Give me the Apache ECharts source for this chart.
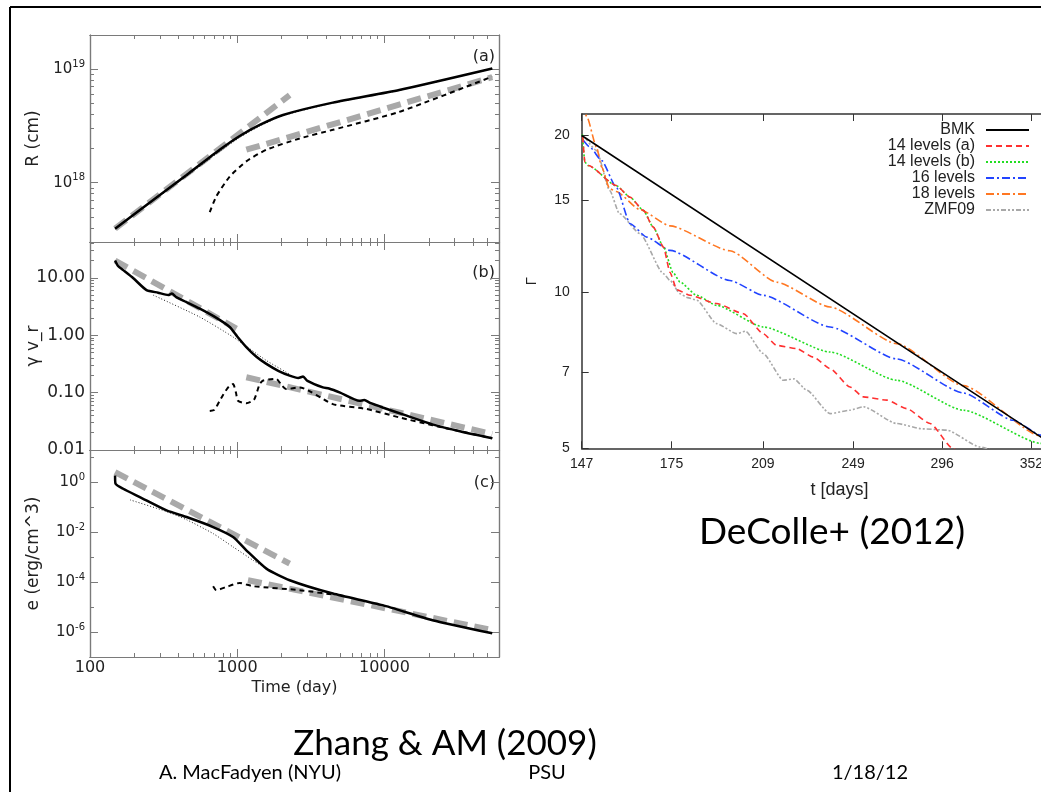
<!DOCTYPE html>
<html>
<head>
<meta charset="utf-8">
<script src="https://cdn.jsdelivr.net/npm/echarts@6/dist/echarts.min.js"></script>
<style>
  html, body { margin: 0; padding: 0; background: #fff; }
  #chart { width: 1041px; height: 792px; }
</style>
</head>
<body>
<div id="chart"></div>
<script>
// ---------- Zhang & MacFadyen (2009): time in days ----------
const timeMajorTicks = [100, 1000, 10000];
const timeMinorTicks = [200, 300, 400, 500, 600, 700, 800, 900,
  2000, 3000, 4000, 5000, 6000, 7000, 8000, 9000, 20000, 30000, 40000, 50000];

// (a) radius R (cm)
const radiusMajorTicks = [1e18, 1e19];
const radiusMinorTicks = [4e17, 5e17, 6e17, 7e17, 8e17, 9e17, 2e18, 3e18, 4e18, 5e18, 6e18, 7e18, 8e18, 9e18];
const radiusSolid = [[148, 3.93e17], [255, 6.7e17], [453, 1.17e18], [760, 1.95e18], [1040, 2.58e18],
  [1422, 3.23e18], [2046, 3.95e18], [4460, 5.07e18], [12600, 6.55e18], [54000, 1.014e19]];
const radiusDotted = [[148, 3.9e17], [255, 6.6e17], [453, 1.14e18], [760, 1.88e18], [1040, 2.5e18],
  [1422, 3.15e18], [2046, 3.9e18], [4460, 5.03e18], [12600, 6.5e18], [54000, 1.01e19]];
const radiusDashed = [[651, 5.5e17], [722, 7.6e17], [889, 1.13e18], [1153, 1.54e18], [1578, 1.95e18],
  [2654, 2.45e18], [4460, 2.92e18], [12600, 4.2e18], [54000, 8.6e18]];
const radiusFitEarly = [[148, 3.93e17], [2270, 5.9e18]];
const radiusFitLate = [[1153, 1.95e18], [54000, 8.5e18]];

// (b) gamma v_r
const velMajorTicks = [0.01, 0.1, 1, 10];
const velMinorTicks = [0.02, 0.03, 0.04, 0.05, 0.06, 0.07, 0.08, 0.09, 0.2, 0.3, 0.4, 0.5, 0.6, 0.7, 0.8, 0.9,
  2, 3, 4, 5, 6, 7, 8, 9, 20, 30, 40];
const velSolid = [[148, 20], [155, 16], [168, 13.6], [197, 9.8], [242, 6.1], [290, 5.5], [340, 5.0], [360, 5.3],
  [385, 4.6], [450, 3.8], [557, 2.9], [700, 2.1], [889, 1.39], [1000, 0.95], [1153, 0.62], [1350, 0.42],
  [1577, 0.316], [1900, 0.24], [2270, 0.198], [2600, 0.18], [2800, 0.19], [3000, 0.16], [3818, 0.123],
  [4200, 0.118], [5000, 0.1], [6760, 0.072], [7300, 0.074], [8000, 0.066], [9720, 0.055], [14000, 0.04],
  [21200, 0.028], [33000, 0.021], [54000, 0.016]];
const velDotted = [[269, 4.98], [557, 2.07], [937, 0.93], [1577, 0.362], [2270, 0.21]];
const velDashed = [[651, 0.048], [700, 0.05], [760, 0.072], [860, 0.12], [937, 0.141], [980, 0.1], [1012, 0.072],
  [1153, 0.065], [1300, 0.075], [1420, 0.14], [1500, 0.162], [1841, 0.174], [2000, 0.135], [2150, 0.115],
  [2654, 0.123], [4460, 0.063], [7510, 0.052], [12600, 0.037], [21200, 0.027], [54000, 0.016]];
const velFitEarly = [[148, 20], [988, 1.3]];
const velFitLate = [[1153, 0.185], [54000, 0.019]];

// (c) energy density e (erg/cm^3)
const energyMajorTicks = [1e-6, 1e-4, 1e-2, 1];
const energyMinorTicks = [1e-7, 1e-5, 1e-3, 1e-1, 10];
const energySolid = [[148, 1.9], [149, 0.9], [168, 0.56], [218, 0.26], [331, 0.076], [453, 0.041], [686, 0.0163],
  [937, 0.0065], [1153, 0.0019], [1577, 0.00035], [2270, 0.00012], [4460, 3.5e-5], [9720, 1.2e-5],
  [21200, 3.0e-6], [54000, 8.9e-7]];
const energyDotted = [[187, 0.2], [331, 0.068], [453, 0.032], [686, 0.0089], [937, 0.0026], [1280, 0.00076], [1577, 0.00035]];
const energyDashed = [[686, 6.9e-5], [721, 4.8e-5], [846, 6.5e-5], [1040, 9.3e-5], [1280, 6.9e-5], [2654, 4.8e-5], [4460, 3.2e-5]];
const energyFitEarly = [[148, 2.6], [2270, 5.6e-4]];
const energyFitLate = [[1183, 1.2e-4], [54000, 1.2e-6]];

// ---------- DeColle+ (2012): Lorentz factor vs t [days] ----------
const gammaTimeTicks = [147, 175, 209, 249, 296, 352];
const gammaTicks = [5, 7, 10, 15, 20];
const bmk = [[147, 20], [296, 7.0], [400, 4.46]];
const levels14a = [[147.3, 19.9], [147.9, 17.77], [148.9, 17.51], [157.2, 16.02], [161.5, 15.21], [165.7, 14.35],
  [168.9, 13.33], [172.3, 12.2], [174.5, 10.9], [176.8, 10.1], [181.4, 9.85], [191, 9.5], [201.2, 9.08],
  [209.1, 8.31], [214.6, 7.89], [223.1, 7.78], [230.5, 7.49], [238.1, 7.12], [247.5, 6.56], [254, 6.28],
  [265.8, 6.19], [276.3, 5.96], [289.1, 5.58], [302.4, 4.99], [306, 4.9]];
const levels14b = [[147.2, 20.1], [147.9, 17.77], [148.9, 17.51], [157.2, 16.02], [161.5, 15.21], [165.7, 14.35],
  [168.9, 13.33], [172.3, 12.2], [175.5, 10.9], [177.9, 10.45], [183.8, 9.85], [191, 9.42], [209.1, 8.56],
  [238.1, 7.66], [271, 6.76], [308.4, 5.92], [358.5, 5.11], [380, 4.8]];
const levels16 = [[147.5, 19.56], [149.4, 18.98], [152.8, 17.9], [157.2, 15.9], [161.5, 13.53], [166.8, 12.75],
  [174.5, 12.02], [196, 10.52], [209.1, 9.85], [238.1, 8.56], [271, 7.43], [308.4, 6.39], [339.8, 5.66],
  [358.5, 5.3], [380, 4.95]];
const levels18 = [[147.3, 23], [148.5, 21.7], [151.3, 18.98], [152.8, 17.4], [155.2, 15.8], [157.2, 15.6],
  [164.6, 14.4], [174.5, 13.4], [196, 12.0], [214.6, 10.44], [238.1, 9.35], [271, 7.95], [308.4, 6.6],
  [358.5, 5.28], [400, 4.47]];
const zmf09 = [[147.9, 19.85], [151.3, 18.71], [155.2, 15.67], [158.2, 14.14], [164.6, 12.95], [172.3, 10.84],
  [174.5, 10.52], [177.9, 9.92], [180.5, 9.75], [183.8, 9.64], [191, 8.69], [198.6, 8.31], [202, 8.4],
  [209.1, 7.61], [217.4, 6.76], [222, 6.8], [227.5, 6.47], [238.1, 5.83], [247.5, 5.92], [254, 6.01],
  [271, 5.58], [285, 5.45], [298.6, 5.42], [318.5, 5.03], [330, 4.9]];

// ---------- styling ----------
const LEFT_FONT = 'DejaVu Sans';
const RIGHT_FONT = 'Liberation Sans';
const FRAME = '#7a7a7a';

function powLabel(v) {
  const e = Math.round(Math.log10(v));
  return '{b|10}{s|' + e + '}';
}
const powRich = {
  b: { fontSize: 15, lineHeight: 20, verticalAlign: 'middle', fontFamily: LEFT_FONT, color: '#222' },
  s: { fontSize: 10, lineHeight: 6, verticalAlign: 'top', fontFamily: LEFT_FONT, color: '#222' }
};

const grids = [];
const xAxes = [];
const yAxes = [];
const series = [];

function logAxis(gridIndex, position, min, max, ticks, len, extra) {
  const ax = {
    gridIndex, type: 'log', logBase: 10, position, min, max,
    axisLine: { show: true, lineStyle: { color: FRAME, width: 1.2 } },
    splitLine: { show: false },
    axisTick: { show: true, inside: true, length: len, customValues: ticks, lineStyle: { color: FRAME, width: 1 } },
    axisLabel: { show: false }
  };
  return Object.assign(ax, extra || {});
}

const panels = [
  { top: 35, height: 207, ymin: 3e17, ymax: 2e19, major: radiusMajorTicks, minor: radiusMinorTicks,
    label: { customValues: radiusMajorTicks, formatter: powLabel, rich: powRich, margin: 5 },
    name: 'R (cm)', tag: '(a)', tagY: 57 },
  { top: 242, height: 208, ymin: 0.01, ymax: 42, major: velMajorTicks, minor: velMinorTicks,
    label: { customValues: velMajorTicks, formatter: v => v.toFixed(2), fontSize: 17, fontFamily: LEFT_FONT, color: '#222', margin: 5 },
    name: 'γ v_r', tag: '(b)', tagY: 273 },
  { top: 450, height: 207, ymin: 1e-7, ymax: 20, major: energyMajorTicks, minor: energyMinorTicks,
    label: { customValues: energyMajorTicks, formatter: powLabel, rich: powRich, margin: 5 },
    name: 'e (erg/cm^3)', tag: '(c)', tagY: 483 }
];

const panelAxisIndex = [];
panels.forEach((p, k) => {
  const g = grids.length;
  const rect = { left: 90, top: p.top, width: 409, height: p.height, outerBoundsMode: 'none' };
  grids.push(Object.assign({}, rect), Object.assign({}, rect));
  const isBottom = k === panels.length - 1;
  const xi = xAxes.length;
  // minor ticks on the main grid, whose axes also carry the curves
  xAxes.push(logAxis(g, 'bottom', 100, 60000, timeMinorTicks, 4, isBottom ? {
    name: 'Time (day)', nameLocation: 'middle', nameGap: 23,
    nameTextStyle: { fontSize: 16, fontFamily: LEFT_FONT, color: '#222' }
  } : {}));
  xAxes.push(logAxis(g, 'top', 100, 60000, timeMinorTicks, 4));
  // major ticks on an overlay grid of the same size
  xAxes.push(logAxis(g + 1, 'bottom', 100, 60000, timeMajorTicks, 8, isBottom ? {
    axisLabel: { show: true, customValues: timeMajorTicks, formatter: v => String(Math.round(v)),
      fontSize: 16, fontFamily: LEFT_FONT, color: '#222', margin: 3 }
  } : {}));
  xAxes.push(logAxis(g + 1, 'top', 100, 60000, timeMajorTicks, 8));

  const yi = yAxes.length;
  yAxes.push(logAxis(g, 'left', p.ymin, p.ymax, p.minor, 4, {
    name: p.name, nameLocation: 'middle', nameGap: 48,
    nameTextStyle: { fontSize: 17, fontFamily: LEFT_FONT, color: '#222' }
  }));
  yAxes.push(logAxis(g, 'right', p.ymin, p.ymax, p.minor, 4));
  yAxes.push(logAxis(g + 1, 'left', p.ymin, p.ymax, p.major, 8, {
    axisLabel: Object.assign({ show: true }, p.label)
  }));
  yAxes.push(logAxis(g + 1, 'right', p.ymin, p.ymax, p.major, 8));
  panelAxisIndex.push([xi, yi]);
});

function addLeft(k, data, kind) {
  const [xi, yi] = panelAxisIndex[k];
  const styles = {
    solid: { color: '#000', width: 2.5, type: 'solid' },
    dotted: { color: '#222', width: 1, type: [1, 2] },
    dashed: { color: '#000', width: 2, type: [5, 4] },
    fit: { color: '#a9a9a9', width: 6, type: [14, 7] }
  };
  series.push({
    type: 'line', xAxisIndex: xi, yAxisIndex: yi, data,
    symbol: 'none', silent: true, animation: false,
    smooth: kind === 'fit' ? false : 0.2,
    z: kind === 'fit' ? 1 : (kind === 'solid' ? 4 : 3),
    lineStyle: styles[kind]
  });
}
addLeft(0, radiusFitEarly, 'fit'); addLeft(0, radiusFitLate, 'fit');
addLeft(0, radiusDotted, 'dotted'); addLeft(0, radiusSolid, 'solid'); addLeft(0, radiusDashed, 'dashed');
addLeft(1, velFitEarly, 'fit'); addLeft(1, velFitLate, 'fit');
addLeft(1, velDotted, 'dotted'); addLeft(1, velSolid, 'solid'); addLeft(1, velDashed, 'dashed');
addLeft(2, energyFitEarly, 'fit'); addLeft(2, energyFitLate, 'fit');
addLeft(2, energyDotted, 'dotted'); addLeft(2, energySolid, 'solid'); addLeft(2, energyDashed, 'dashed');

// ---------- right panel ----------
const rg = grids.length;
grids.push({ left: 581.7, top: 114, width: 515.6, height: 334.3, outerBoundsMode: 'none' });
const RFRAME = '#333';
const rxi = xAxes.length;
xAxes.push({
  gridIndex: rg, type: 'log', position: 'bottom', min: 147, max: 400,
  axisLine: { show: true, lineStyle: { color: RFRAME, width: 1.5 } },
  splitLine: { show: false },
  axisTick: { inside: true, length: 7, customValues: gammaTimeTicks, lineStyle: { color: RFRAME } },
  axisLabel: { customValues: gammaTimeTicks, formatter: v => String(Math.round(v)), margin: 9,
    fontSize: 14, fontFamily: RIGHT_FONT, color: '#222' },
  name: 't [days]', nameLocation: 'middle', nameGap: 33,
  nameTextStyle: { fontSize: 18, fontFamily: RIGHT_FONT, color: '#222' }
});
xAxes.push({
  gridIndex: rg, type: 'log', position: 'top', min: 147, max: 400,
  axisLine: { show: true, lineStyle: { color: RFRAME, width: 1.5 } },
  splitLine: { show: false },
  axisTick: { inside: true, length: 7, customValues: gammaTimeTicks, lineStyle: { color: RFRAME } },
  axisLabel: { show: false }
});
const ryi = yAxes.length;
yAxes.push({
  gridIndex: rg, type: 'log', position: 'left', min: 5, max: 22,
  axisLine: { show: true, lineStyle: { color: RFRAME, width: 1.5 } },
  splitLine: { show: false },
  axisTick: { inside: true, length: 7, customValues: gammaTicks, lineStyle: { color: RFRAME } },
  axisLabel: { customValues: gammaTicks, formatter: v => String(Math.round(v)), margin: 12,
    fontSize: 14, fontFamily: RIGHT_FONT, color: '#222' },
  name: 'Γ', nameLocation: 'middle', nameGap: 42,
  nameTextStyle: { fontSize: 15, fontFamily: RIGHT_FONT, color: '#222' }
});

const rightSeries = [
  { name: 'BMK', data: bmk, color: '#000000', type: 'solid', width: 1.6 },
  { name: '14 levels (a)', data: levels14a, color: '#ff3030', type: [6, 4], width: 1.6 },
  { name: '14 levels (b)', data: levels14b, color: '#22dd22', type: [2, 2], width: 1.6 },
  { name: '16 levels', data: levels16, color: '#2244ff', type: [8, 3, 2, 3], width: 1.6 },
  { name: '18 levels', data: levels18, color: '#ff7722', type: [8, 3, 2, 3], width: 1.6 },
  { name: 'ZMF09', data: zmf09, color: '#a8a8a8', type: [5, 2, 2, 2, 2, 2], width: 1.6 }
];
rightSeries.forEach((s, i) => {
  series.push({
    type: 'line', name: s.name, xAxisIndex: rxi, yAxisIndex: ryi, data: s.data,
    symbol: 'none', silent: true, animation: false,
    smooth: s.name === 'BMK' ? false : 0.2, smoothMonotone: 'x',
    z: 10 - i,
    itemStyle: { color: s.color },
    lineStyle: { color: s.color, width: s.width, type: s.type }
  });
});

// ---------- slide decoration and captions ----------
const graphic = [
  { type: 'line', shape: { x1: 10, y1: 7, x2: 1041, y2: 7 }, style: { stroke: '#000', lineWidth: 2 } },
  { type: 'line', shape: { x1: 10, y1: 7, x2: 10, y2: 792 }, style: { stroke: '#000', lineWidth: 2 } }
];
panels.forEach(p => {
  graphic.push({ type: 'text', x: 495, y: p.tagY,
    style: { text: p.tag, font: '16px "DejaVu Sans"', fill: '#222', align: 'right', verticalAlign: 'middle' } });
});
function caption(text, x, y, size) {
  graphic.push({ type: 'text', x, y,
    style: { text, font: size + 'px Lato', fill: '#000', align: 'center', verticalAlign: 'middle' } });
}
caption('DeColle+ (2012)', 832, 532, 37);
caption('Zhang & AM (2009)', 445, 744, 35);
caption('A. MacFadyen (NYU)', 250, 773, 20);
caption('PSU', 547, 773, 20);
caption('1/18/12', 870, 773, 20);

const chart = echarts.init(document.getElementById('chart'), null, { renderer: 'canvas' });
chart.setOption({
  backgroundColor: '#ffffff',
  animation: false,
  grid: grids,
  xAxis: xAxes,
  yAxis: yAxes,
  legend: {
    data: rightSeries.map(s => s.name),
    orient: 'vertical', align: 'right',
    right: 6, top: 117,
    itemWidth: 43, itemHeight: 16, itemGap: 0,
    selectedMode: false,
    itemStyle: { opacity: 0 },
    textStyle: { fontSize: 16, lineHeight: 16, fontFamily: RIGHT_FONT, color: '#222', padding: [0, 6, 0, 0] }
  },
  series,
  graphic
});
</script>
</body>
</html>
